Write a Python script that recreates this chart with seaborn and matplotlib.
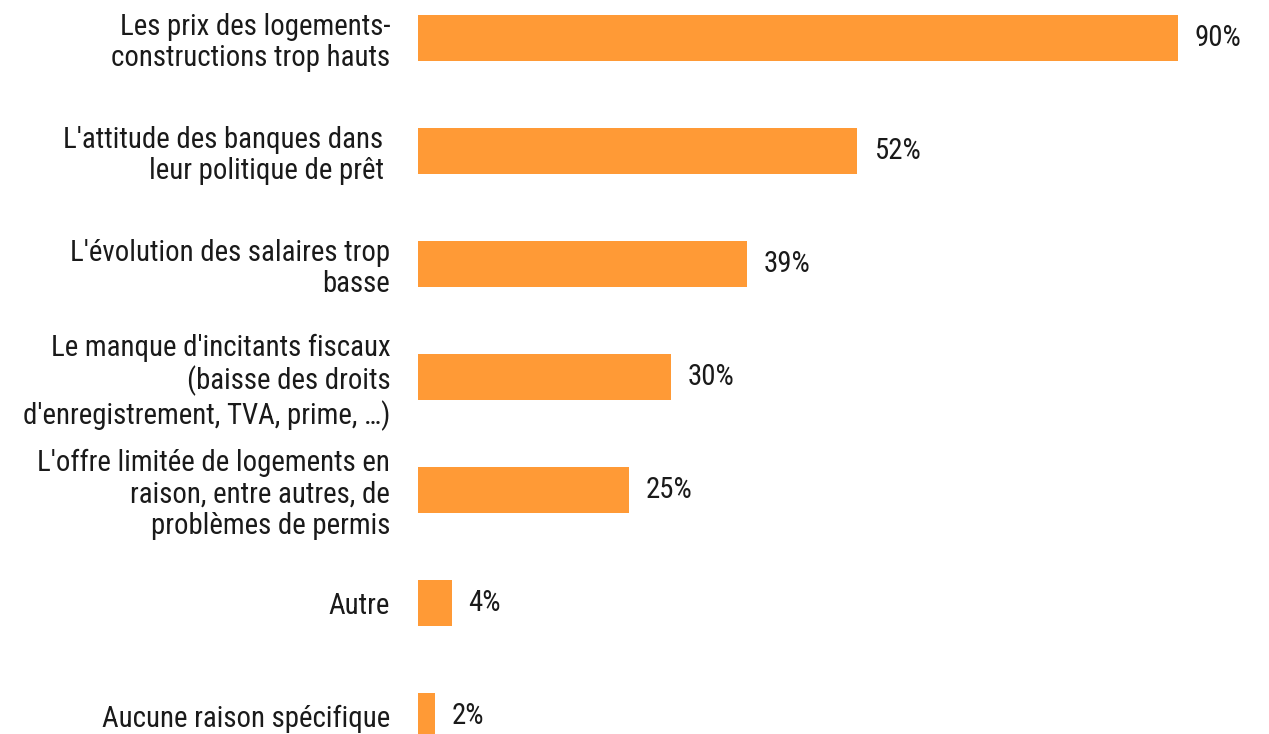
import matplotlib
matplotlib.use("Agg")
import matplotlib.pyplot as plt
from matplotlib import font_manager
import seaborn as sns
import pandas as pd

# Survey answers and their shares (%)
categories = [
    "Les prix des logements-\nconstructions trop hauts",
    "L'attitude des banques dans \nleur politique de prêt ",
    "L'évolution des salaires trop\nbasse",
    "Le manque d'incitants fiscaux\n(baisse des droits\nd'enregistrement, TVA, prime, …)",
    "L'offre limitée de logements en\nraison, entre autres, de\nproblèmes de permis",
    "Autre",
    "Aucune raison spécifique",
]
values = [90, 52, 39, 30, 25, 4, 2]
value_labels = ["90%", "52%", "39%", "30%", "25%", "4%", "2%"]

BAR_COLOR = "#FF9A36"
TEXT_COLOR = "#1a1a1a"
FONT_SIZE = 20.8

sns.set_theme(style="white")

# Prefer a condensed sans face when one is installed
available = {f.name for f in font_manager.fontManager.ttflist}
families = [f for f in ["Roboto Condensed", "DejaVu Sans Condensed", "Liberation Sans Narrow", "Roboto"]
            if f in available]
plt.rcParams["font.family"] = families + ["DejaVu Sans"]

df = pd.DataFrame({"reason": categories, "share": values})

W, H = 1269, 734
fig = plt.figure(figsize=(W / 100, H / 100), dpi=100)
left = 418 / W
ax = fig.add_axes([left, 0, 1 - left, 1])

sns.barplot(data=df, y="reason", x="share", orient="h", color=BAR_COLOR,
            saturation=1, width=0.41, linewidth=0, ax=ax)

ax.set_xlim(0, (W - 418) / 8.444)
ax.set_ylim(6.16, -0.336)

ax.bar_label(ax.containers[0], labels=value_labels, padding=12,
             fontsize=FONT_SIZE, color=TEXT_COLOR)

ax.set_xlabel("")
ax.set_ylabel("")
ax.set_xticks([])
ax.tick_params(axis="y", length=0, pad=20)
for lab in ax.get_yticklabels():
    lab.set_fontsize(FONT_SIZE)
    lab.set_color(TEXT_COLOR)
    lab.set_linespacing(1.16)
    lab.set_multialignment("right")
for s in ax.spines.values():
    s.set_visible(False)

fig.savefig("out.png", dpi=100, facecolor="white")
